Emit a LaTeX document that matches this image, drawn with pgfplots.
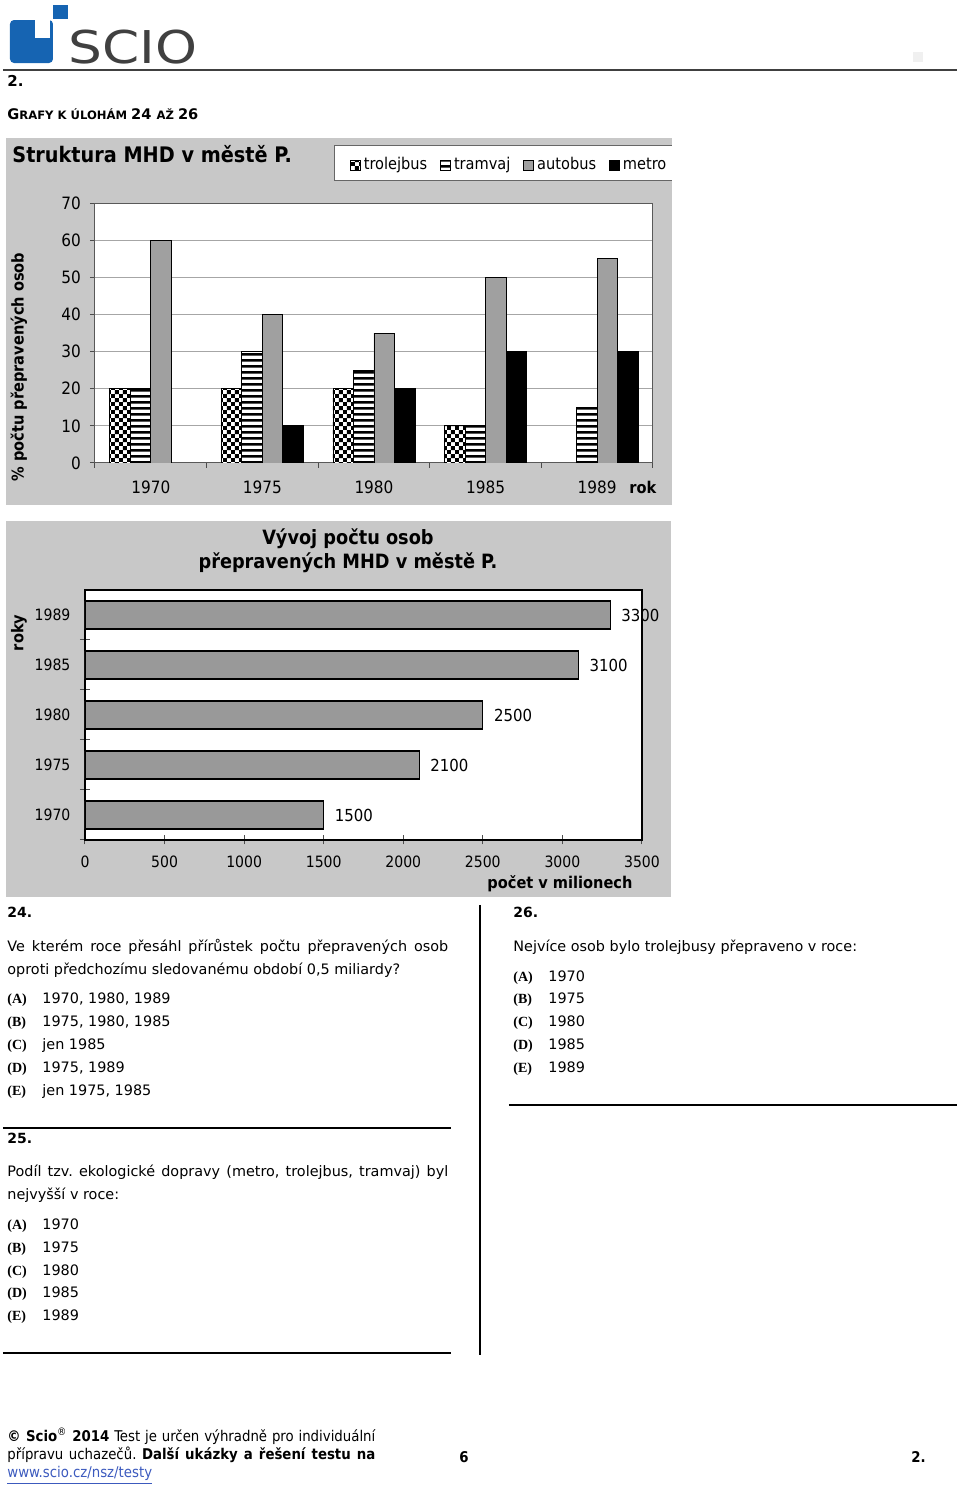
\documentclass[border=0pt]{standalone}
\usepackage{fontspec}
\setmainfont{DejaVu Sans}
\newfontfamily\cond{DejaVu Sans Condensed}
\newfontfamily\tnr{Liberation Serif}
\usepackage{pgfplots}
\usepackage{pgfplotstable}
\pgfplotsset{compat=1.18}
\usetikzlibrary{patterns}
\definecolor{panel}{RGB}{200,200,200}
\definecolor{logoblue}{RGB}{22,100,178}
\definecolor{scio}{RGB}{64,64,64}
\definecolor{autog}{RGB}{160,160,160}
\definecolor{barg}{RGB}{153,153,153}
\definecolor{linkc}{RGB}{60,90,190}
\pgfdeclarepatternformonly{chk}{\pgfqpoint{0pt}{0pt}}{\pgfqpoint{4pt}{4pt}}{\pgfqpoint{4pt}{4pt}}{%
  \pgfpathrectangle{\pgfqpoint{0pt}{0pt}}{\pgfqpoint{2pt}{2pt}}%
  \pgfpathrectangle{\pgfqpoint{2pt}{2pt}}{\pgfqpoint{2pt}{2pt}}%
  \pgfusepath{fill}}
\pgfdeclarepatternformonly{hln}{\pgfqpoint{0pt}{0pt}}{\pgfqpoint{3pt}{3.15pt}}{\pgfqpoint{3pt}{3.15pt}}{%
  \pgfpathrectangle{\pgfqpoint{0pt}{0.8pt}}{\pgfqpoint{3pt}{1.4pt}}%
  \pgfusepath{fill}}
\pgfplotsset{sqleg/.style={legend image code/.code={\draw[##1] (0pt,-2.5pt) rectangle (5pt,2.5pt);}}}
\newcommand\bodyf{\fontsize{7.2}{11.5}\selectfont}
\newcommand\optf{\tnr\bfseries\fontsize{7}{8}\selectfont}
\newcommand\footf{\cond\fontsize{7.4}{9}\selectfont}
\frenchspacing

\pgfplotstableread{
idx val
0 1500
1 2100
2 2500
3 3100
4 3300
}\osoby

\begin{document}
\begin{tikzpicture}
\begin{scope}[x=0.5pt,y=-0.5pt]
\useasboundingbox (0,0) rectangle (960,1485);
% header
\fill[logoblue,rounded corners=2pt] (10,20) rectangle (53,63);
\fill[white] (35,20) rectangle (50,38);
\fill[logoblue] (53,5) rectangle (68,19);
\node[anchor=base west,inner sep=0pt,text=scio,xscale=1.18] at (68,63) {\fontsize{22.6}{24}\selectfont SCIO};
\draw[black!75,line width=0.6pt] (3,70) -- (957,70);
\fill[gray!12] (913,52) rectangle (923,62);
\node[anchor=base west,inner sep=0pt] at (7,86) {\bfseries\fontsize{7.5}{9}\selectfont 2.};
\node[anchor=base west,inner sep=0pt] at (7,119) {\bfseries\fontsize{7.3}{9}\selectfont G\fontsize{5.8}{8}\selectfont RAFY K ÚLOHÁM \fontsize{7.3}{9}\selectfont 24 \fontsize{5.8}{8}\selectfont AŽ \fontsize{7.3}{9}\selectfont 26};
% panels
\fill[panel] (6,138) rectangle (672,505);
\fill[panel] (6,521) rectangle (671,897);
\fill[white] (335,145) rectangle (672,180);
\draw[gray!80!black,line width=0.5pt] (672,145) -- (335,145) -- (335,180) -- (672,180);
\end{scope}

% chart 1
\begin{axis}[
  at={(47.5pt,-231.5pt)}, anchor=south west, scale only axis,
  width=279pt, height=130pt,
  xmin=-0.5, xmax=4.5, ymin=0, ymax=70,
  ybar=0pt, bar width=10.25pt,
  axis background/.style={fill=white},
  xtick={0,1,2,3,4}, xticklabels={1970,1975,1980,1985,1989},
  minor xtick={-0.5,0.5,1.5,2.5,3.5,4.5},
  ytick={0,10,...,70},
  xtick pos=lower, ytick pos=left, tick align=outside,
  major x tick style={draw=none},
  minor tick length=2.5pt, major tick length=2.5pt,
  tick style={gray!60!black,line width=0.5pt},
  ymajorgrids, major grid style={gray!70,line width=0.5pt},
  axis line style={gray!70!black,line width=0.5pt},
  ticklabel style={font=\cond\fontsize{8.5}{10}\selectfont},
  /pgf/number format/assume math mode=true,
  xticklabel style={yshift=-3pt},
  yticklabel style={xshift=-1pt},
  legend columns=4,
  legend style={at={(axis description cs:0.4563,1.146)}, anchor=west, draw=none, fill=none, inner sep=0pt,
    font=\cond\fontsize{8.1}{10}\selectfont,
    nodes={inner sep=1.5pt},
    /tikz/every even column/.append style={column sep=5pt}},
]
\addplot[draw=black,fill=white,postaction={pattern=chk},sqleg] coordinates {(0,20) (1,20) (2,20) (3,10)};
\addplot[draw=black,fill=white,postaction={pattern=hln},sqleg] coordinates {(0,20) (1,30) (2,25) (3,10) (4,15)};
\addplot[draw=black,fill=autog,sqleg] coordinates {(0,60) (1,40) (2,35) (3,50) (4,55)};
\addplot[draw=black,fill=black,sqleg] coordinates {(1,10) (2,20) (3,30) (4,30)};
\legend{trolejbus,tramvaj,autobus,metro}
\end{axis}

% chart 2
\begin{axis}[
  at={(42.5pt,-420pt)}, anchor=south west, scale only axis,
  width=278.5pt, height=125pt,
  xbar, bar width=14pt,
  xmin=0, xmax=3500, ymin=-0.5, ymax=4.5,
  axis background/.style={fill=white},
  ytick={0,1,2,3,4}, yticklabels={1970,1975,1980,1985,1989},
  minor ytick={-0.5,0.5,1.5,2.5,3.5},
  major y tick style={draw=none},
  xtick={0,500,...,3500},
  xtick pos=lower, ytick pos=left, tick align=center,
  major tick length=4.5pt, minor tick length=5pt,
  tick style={gray!60!black,line width=0.5pt},
  axis line style={black,line width=0.6pt},
  ticklabel style={font=\cond\fontsize{7.8}{9}\selectfont},
  /pgf/number format/1000 sep={},
  /pgf/number format/assume math mode=true,
  xticklabel style={yshift=-2pt},
  yticklabel style={xshift=-1.5pt},
  point meta=x,
  nodes near coords,
  nodes near coords style={font=\cond\fontsize{8.3}{10}\selectfont, anchor=west, xshift=2pt},
]
\addplot[fill=barg,draw=black,line width=0.6pt] table[x=val,y=idx] {\osoby};
\end{axis}

\begin{scope}[x=0.5pt,y=-0.5pt]
\node[anchor=base west,inner sep=0pt] at (12,162) {\cond\bfseries\fontsize{10.7}{12}\selectfont Struktura MHD v městě P.};
\node[rotate=90,inner sep=0pt] at (19,367) {\cond\bfseries\fontsize{8.1}{10}\selectfont \% počtu přepravených osob};
\node[anchor=base west,inner sep=0pt] at (629,494) {\cond\bfseries\fontsize{8.1}{10}\selectfont rok};
\node[anchor=base,inner sep=0pt,align=center] at (348,545) {\cond\bfseries\fontsize{9.85}{12}\selectfont Vývoj počtu osob};
\node[anchor=base,inner sep=0pt,align=center] at (348,569) {\cond\bfseries\fontsize{9.85}{12}\selectfont přepravených MHD v městě P.};
\node[rotate=90,inner sep=0pt] at (19,633) {\cond\bfseries\fontsize{8.1}{10}\selectfont roky};
\node[anchor=base,inner sep=0pt] at (560,889) {\cond\bfseries\fontsize{8.1}{10}\selectfont počet v milionech};

% question 24
\node[anchor=base west,inner sep=0pt] at (7,918) {\bfseries\fontsize{7}{8}\selectfont 24.};
\node[anchor=base west,inner sep=0pt] at (7,952) {\bodyf\makebox[220.5pt][s]{Ve kterém roce přesáhl přírůstek počtu přepravených osob}};
\node[anchor=base west,inner sep=0pt] at (7,975) {\bodyf oproti předchozímu sledovanému období 0,5 miliardy?};
\node[anchor=base west,inner sep=0pt] at (7,1004) {\optf (A)};
\node[anchor=base west,inner sep=0pt] at (42,1004) {\bodyf 1970, 1980, 1989};
\node[anchor=base west,inner sep=0pt] at (7,1027) {\optf (B)};
\node[anchor=base west,inner sep=0pt] at (42,1027) {\bodyf 1975, 1980, 1985};
\node[anchor=base west,inner sep=0pt] at (7,1050) {\optf (C)};
\node[anchor=base west,inner sep=0pt] at (42,1050) {\bodyf jen 1985};
\node[anchor=base west,inner sep=0pt] at (7,1073) {\optf (D)};
\node[anchor=base west,inner sep=0pt] at (42,1073) {\bodyf 1975, 1989};
\node[anchor=base west,inner sep=0pt] at (7,1096) {\optf (E)};
\node[anchor=base west,inner sep=0pt] at (42,1096) {\bodyf jen 1975, 1985};
\draw[black,line width=0.6pt] (3,1128) -- (451,1128);
% question 25
\node[anchor=base west,inner sep=0pt] at (7,1144) {\bfseries\fontsize{7}{8}\selectfont 25.};
\node[anchor=base west,inner sep=0pt] at (7,1177) {\bodyf\makebox[220.5pt][s]{Podíl tzv. ekologické dopravy (metro, trolejbus, tramvaj) byl}};
\node[anchor=base west,inner sep=0pt] at (7,1200) {\bodyf nejvyšší v roce:};
\node[anchor=base west,inner sep=0pt] at (7,1230) {\optf (A)};
\node[anchor=base west,inner sep=0pt] at (42,1230) {\bodyf 1970};
\node[anchor=base west,inner sep=0pt] at (7,1253) {\optf (B)};
\node[anchor=base west,inner sep=0pt] at (42,1253) {\bodyf 1975};
\node[anchor=base west,inner sep=0pt] at (7,1276) {\optf (C)};
\node[anchor=base west,inner sep=0pt] at (42,1276) {\bodyf 1980};
\node[anchor=base west,inner sep=0pt] at (7,1298) {\optf (D)};
\node[anchor=base west,inner sep=0pt] at (42,1298) {\bodyf 1985};
\node[anchor=base west,inner sep=0pt] at (7,1321) {\optf (E)};
\node[anchor=base west,inner sep=0pt] at (42,1321) {\bodyf 1989};
\draw[black,line width=0.6pt] (3,1353) -- (451,1353);
\draw[black,line width=0.6pt] (480,905) -- (480,1355);
% question 26
\node[anchor=base west,inner sep=0pt] at (513,918) {\bfseries\fontsize{7}{8}\selectfont 26.};
\node[anchor=base west,inner sep=0pt] at (513,952) {\bodyf Nejvíce osob bylo trolejbusy přepraveno v roce:};
\node[anchor=base west,inner sep=0pt] at (513,982) {\optf (A)};
\node[anchor=base west,inner sep=0pt] at (548,982) {\bodyf 1970};
\node[anchor=base west,inner sep=0pt] at (513,1004) {\optf (B)};
\node[anchor=base west,inner sep=0pt] at (548,1004) {\bodyf 1975};
\node[anchor=base west,inner sep=0pt] at (513,1027) {\optf (C)};
\node[anchor=base west,inner sep=0pt] at (548,1027) {\bodyf 1980};
\node[anchor=base west,inner sep=0pt] at (513,1050) {\optf (D)};
\node[anchor=base west,inner sep=0pt] at (548,1050) {\bodyf 1985};
\node[anchor=base west,inner sep=0pt] at (513,1073) {\optf (E)};
\node[anchor=base west,inner sep=0pt] at (548,1073) {\bodyf 1989};
\draw[black,line width=0.6pt] (509,1105) -- (957,1105);
% footer
\node[anchor=base west,inner sep=0pt] at (7,1442) {\footf\makebox[184pt][s]{\textbf{© Scio}\textsuperscript{®} \textbf{2014} Test je určen výhradně pro individuální}};
\node[anchor=base west,inner sep=0pt] at (7,1460) {\footf\makebox[184pt][s]{přípravu uchazečů. \textbf{Další ukázky a řešení testu na}}};
\node[anchor=base west,inner sep=0pt,text=linkc] at (7,1478) {\footf\underline{www.scio.cz/nsz/testy}};
\node[anchor=base,inner sep=0pt] at (464,1463) {\cond\bfseries\fontsize{7.4}{9}\selectfont 6};
\node[anchor=base west,inner sep=0pt] at (911,1463) {\cond\bfseries\fontsize{7.4}{9}\selectfont 2.};
\end{scope}
\end{tikzpicture}
\end{document}
